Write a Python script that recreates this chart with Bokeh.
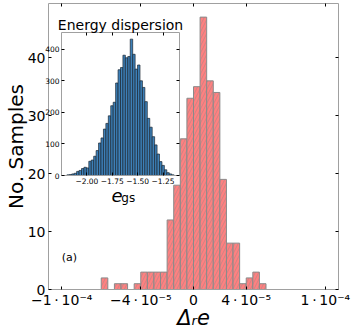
import numpy as np
from bokeh.plotting import figure
from bokeh.models import (FixedTicker, LinearAxis, Label, CustomJSTickFormatter, Range1d,
                          ColumnDataSource)
from bokeh.embed import file_html
from bokeh.resources import INLINE

# ---------------- data ----------------
# main histogram of the relative error Delta_r e
dre_bin_start = -7.0e-5
dre_bin_width = 5.0e-6
dre_counts = [2, 0, 1, 1, 0, 1, 3, 3, 3, 3, 12, 18, 26, 33, 35, 47, 36, 34, 19, 8, 8, 1, 2, 3, 1]
main_xticks = [-1e-4, -4e-5, 0.0, 4e-5, 1e-4]
main_xtick_labels = ["\u22121\u2009\u00b7\u200910\u207b\u2074", "\u22124\u2009\u00b7\u200910\u207b\u2075", "0",
                     "4\u2009\u00b7\u200910\u207b\u2075", "1\u2009\u00b7\u200910\u207b\u2074"]
main_yticks = [0, 10, 20, 30, 40]

# inset histogram of the ground-state energy e_gs
egs_bin_start = -2.197
egs_bin_end = -1.141
egs_counts = [2, 3, 5, 7, 13, 16, 22, 26, 24, 45, 49, 61, 79, 103, 119, 147, 165, 189, 221, 232,
              293, 335, 342, 381, 373, 377, 432, 384, 337, 350, 300, 279, 234, 181, 153, 123, 97, 68,
              44, 32, 18, 9, 5, 2]
inset_xticks = [-2.00, -1.75, -1.50, -1.25]
inset_xtick_labels = ["\u22122.00", "\u22121.75", "\u22121.50", "\u22121.25"]
inset_yticks = [0, 100, 200, 300, 400]

FONT = "DejaVu Sans"

# ---------------- main figure ----------------
n = len(dre_counts)
left = [dre_bin_start + i * dre_bin_width for i in range(n)]
right = [l + dre_bin_width for l in left]
keep = [i for i in range(n) if dre_counts[i] > 0]
src = ColumnDataSource(dict(left=[left[i] for i in keep], right=[right[i] for i in keep],
                            top=[dre_counts[i] for i in keep]))

p = figure(width=353, height=332, x_range=Range1d(-1.1e-4, 1.1e-4), y_range=Range1d(0, 49.35),
           output_backend="svg", toolbar_location=None,
           min_border_left=43, min_border_right=15, min_border_top=3, min_border_bottom=41,
           x_axis_label="\u0394\u1d63e", y_axis_label="No. Samples")
p.styles = {"position": "absolute", "left": "0px", "top": "0px"}

p.quad(left="left", right="right", top="top", bottom=0, source=src,
       fill_color="#ff8080", line_color="#8a8a8a", line_width=1,
       hatch_pattern="/", hatch_color="#8a8a8a", hatch_alpha=0.55, hatch_scale=7, hatch_weight=0.8)

fmt_js = """
let best = 0;
for (let i = 0; i < tv.length; i++) {
  if (Math.abs(tv[i] - tick) < Math.abs(tv[best] - tick)) best = i;
}
return tl[best];
"""

p.add_layout(LinearAxis(), "above")
p.add_layout(LinearAxis(), "right")

for ax in p.xaxis:
    ax.ticker = FixedTicker(ticks=main_xticks)
for ax in p.yaxis:
    ax.ticker = FixedTicker(ticks=main_yticks)
p.below[0].formatter = CustomJSTickFormatter(args=dict(tv=main_xticks, tl=main_xtick_labels), code=fmt_js)
p.above[0].formatter = CustomJSTickFormatter(code="return '';")
p.right[0].formatter = CustomJSTickFormatter(code="return '';")

for ax in list(p.xaxis) + list(p.yaxis):
    ax.axis_line_color = "#a0a0a0"
    ax.major_tick_in = 3
    ax.major_tick_out = 0
    ax.major_tick_line_color = "black"
    ax.minor_tick_line_color = None
    ax.major_label_text_font = FONT
    ax.major_label_text_font_size = "14px"
    ax.major_label_text_color = "black"
    ax.axis_label_text_font = FONT
    ax.axis_label_text_font_size = "21px"
    ax.axis_label_text_font_style = "normal"
    ax.axis_label_text_color = "black"
p.below[0].major_label_standoff = 2
p.below[0].axis_label_standoff = -5
p.below[0].axis_label_text_font_style = "italic"
p.left[0].major_label_standoff = 3
p.left[0].axis_label_standoff = -3
p.left[0].axis_label_text_font_size = "20px"
p.above[0].major_label_standoff = 0
p.right[0].major_label_standoff = 0

p.xgrid.visible = False
p.ygrid.visible = False
p.outline_line_color = None

p.add_layout(Label(x=-1.0e-4, y=5.5, text="(a)", text_font=FONT, text_font_size="11px",
                   text_baseline="middle", text_align="left", text_color="black"))

# x-axis label of the inset (e_gs), drawn beneath the inset frame
p.add_layout(Label(x=-6.23e-5, y=16.15, text="e", text_font=FONT, text_font_size="18px",
                   text_font_style="italic", text_baseline="alphabetic", text_align="left",
                   text_color="black"))
p.add_layout(Label(x=-5.48e-5, y=15.85, text="gs", text_font=FONT, text_font_size="12px",
                   text_baseline="alphabetic", text_align="left", text_color="black"))

# ---------------- inset figure ----------------
m = len(egs_counts)
ew = (egs_bin_end - egs_bin_start) / m
eleft = [egs_bin_start + i * ew for i in range(m)]
eright = [l + ew for l in eleft]

ins = figure(width=160, height=200, x_range=Range1d(-2.250, -1.088), y_range=Range1d(0, 453),
             output_backend="svg", toolbar_location=None, title="Energy dispersion",
             min_border_left=21, min_border_right=21, min_border_top=20, min_border_bottom=37)
ins.styles = {"position": "absolute", "left": "40px", "top": "12px"}
ins.border_fill_alpha = 0
ins.background_fill_color = "white"
ins.outline_line_color = None
ins.title.text_font = FONT
ins.title.text_font_size = "14px"
ins.title.text_font_style = "normal"
ins.title.text_color = "black"
ins.title.align = "center"
ins.title.standoff = 0

ins.quad(left=eleft, right=eright, top=egs_counts, bottom=0,
         fill_color="#3d80b8", line_color="#1a2530", line_width=0.7)

ins.add_layout(LinearAxis(), "above")
ins.add_layout(LinearAxis(), "right")
for ax in ins.xaxis:
    ax.ticker = FixedTicker(ticks=inset_xticks)
for ax in ins.yaxis:
    ax.ticker = FixedTicker(ticks=inset_yticks)
ins.below[0].formatter = CustomJSTickFormatter(args=dict(tv=inset_xticks, tl=inset_xtick_labels), code=fmt_js)
ins.above[0].formatter = CustomJSTickFormatter(code="return '';")
ins.right[0].formatter = CustomJSTickFormatter(code="return '';")
for ax in list(ins.xaxis) + list(ins.yaxis):
    ax.axis_line_color = "#a0a0a0"
    ax.major_tick_in = 3
    ax.major_tick_out = 0
    ax.major_tick_line_color = "black"
    ax.minor_tick_line_color = None
    ax.major_label_text_font = FONT
    ax.major_label_text_font_size = "7.5px"
    ax.major_label_text_color = "black"
    ax.major_label_standoff = 2
ins.above[0].major_label_standoff = 0
ins.right[0].major_label_standoff = 0
ins.xgrid.visible = False
ins.ygrid.visible = False

open("out.html", "w").write(file_html([p, ins], INLINE))
